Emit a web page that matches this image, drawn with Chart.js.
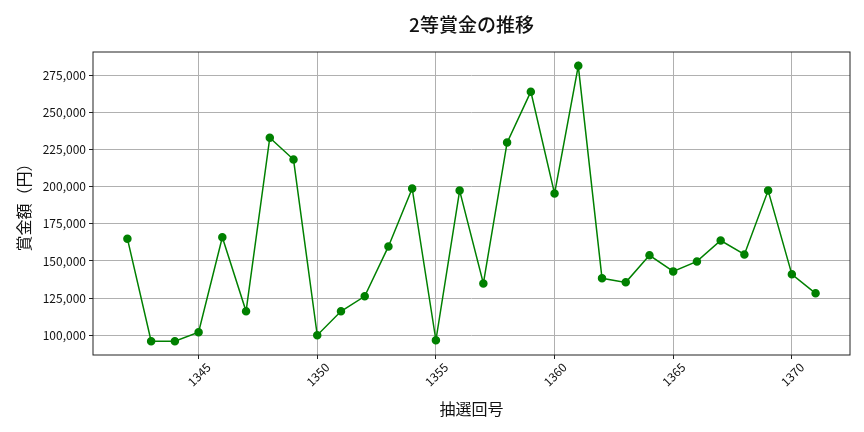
<!DOCTYPE html>
<html>
<head>
<meta charset="utf-8">
<script src="https://cdn.jsdelivr.net/npm/chart.js@4/dist/chart.umd.min.js"></script>
<style>
  html, body { margin: 0; padding: 0; background: #fff; }
</style>
</head>
<body>
<canvas id="prizeChart" width="864" height="432"></canvas>
<script>
// 抽選回号
const drawNumbers = [1342, 1343, 1344, 1345, 1346, 1347, 1348, 1349, 1350, 1351,
                     1352, 1353, 1354, 1355, 1356, 1357, 1358, 1359, 1360, 1361,
                     1362, 1363, 1364, 1365, 1366, 1367, 1368, 1369, 1370, 1371];
// 2等賞金 (円)
const prizeValues = [165000, 96000, 96000, 102000, 166000, 116100, 233000, 218300, 100000, 116100,
                     126200, 159800, 198800, 96600, 197400, 134900, 229700, 264000, 195400, 281400,
                     138300, 135600, 153800, 143000, 149700, 163800, 154400, 197400, 141000, 128200];
const xTicks = [1345, 1350, 1355, 1360, 1365, 1370];
const yTicks = [100000, 125000, 150000, 175000, 200000, 225000, 250000, 275000];
const chartTitle = '2等賞金の推移';

const FONT = "'Noto Sans CJK JP', 'Noto Sans', sans-serif";

// matplotlib-like frame round the plot area, title centred over the plot
const frameBox = {
    id: 'frameBox',
    afterDraw(chart) {
        const { ctx, chartArea: a } = chart;
        ctx.save();
        ctx.strokeStyle = '#222';
        ctx.lineWidth = 1;
        ctx.strokeRect(a.left, a.top, a.right - a.left, a.bottom - a.top);

        ctx.fillStyle = '#111';
        ctx.font = `500 19px ${FONT}`;
        ctx.textAlign = 'center';
        ctx.textBaseline = 'middle';
        ctx.fillText(chartTitle, (a.left + a.right) / 2, 25);
        ctx.restore();
    }
};

const ctx = document.getElementById('prizeChart');
new Chart(ctx, {
    type: 'line',
    data: {
        datasets: [{
            label: '2等賞金',
            data: drawNumbers.map((n, i) => ({ x: n, y: prizeValues[i] })),
            borderColor: '#008000',
            backgroundColor: '#008000',
            borderWidth: 1.5,
            pointRadius: 3.5,
            pointHoverRadius: 3.5,
            tension: 0
        }]
    },
    options: {
        responsive: false,
        animation: false,
        layout: {
            padding: { left: 10, right: 14, top: 52, bottom: 0 }
        },
        plugins: {
            legend: { display: false },
            tooltip: { enabled: false },
            title: { display: false }
        },
        scales: {
            x: {
                type: 'linear',
                min: 1340.55,
                max: 1372.45,
                afterBuildTicks(scale) {
                    scale.ticks = xTicks.map(v => ({ value: v }));
                },
                afterFit(scale) {
                    scale.height = 77;
                },
                grid: {
                    color: '#b0b0b0',
                    tickColor: '#222',
                    tickLength: 4
                },
                border: { display: false },
                ticks: {
                    color: '#111',
                    font: { family: FONT, size: 12 },
                    minRotation: 45,
                    maxRotation: 45,
                    labelOffset: 10,
                    padding: 1,
                    callback: v => String(v)
                },
                title: {
                    display: true,
                    text: '抽選回号',
                    color: '#111',
                    font: { family: FONT, size: 16 },
                    padding: { top: 4, bottom: 13 }
                }
            },
            y: {
                min: 86700,
                max: 290700,
                afterBuildTicks(scale) {
                    scale.ticks = yTicks.map(v => ({ value: v }));
                },
                afterFit(scale) {
                    scale.width = 83;
                },
                grid: {
                    color: '#b0b0b0',
                    tickColor: '#222',
                    tickLength: 4
                },
                border: { display: false },
                ticks: {
                    color: '#111',
                    font: { family: FONT, size: 12 },
                    padding: 3,
                    callback: v => v.toLocaleString('en-US')
                },
                title: {
                    display: true,
                    text: '賞金額（円）',
                    color: '#111',
                    font: { family: FONT, size: 16 },
                    padding: { bottom: 2 }
                }
            }
        }
    },
    plugins: [frameBox]
});
</script>
</body>
</html>
